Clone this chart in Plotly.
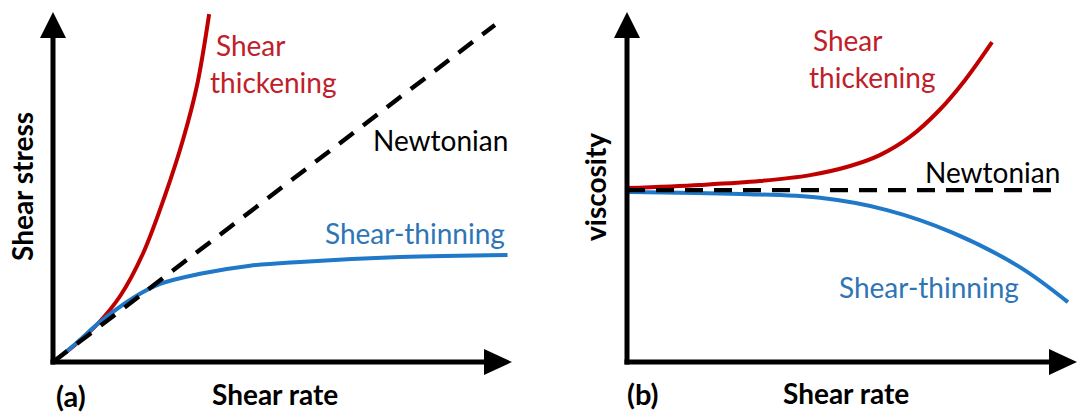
import plotly.graph_objects as go

W, H = 1077, 416

# ---------------- data (schematic values) ----------------
# Panel (a): shear stress vs shear rate
a_thick_x = [0, 0.5, 1.0, 1.5, 2.0, 2.5, 2.9, 3.2, 3.47]
a_thick_y = [0, 0.5, 1.1, 1.9, 3.1, 4.8, 6.4, 7.9, 9.94]
a_newt_x = [0, 9.82]
a_newt_y = [0, 9.63]
a_thin_x = [0, 0.49, 1.04, 1.78, 2.38, 3.27, 4.38, 5.49, 7.71, 10.1]
a_thin_y = [0, 0.51, 1.14, 1.83, 2.23, 2.52, 2.75, 2.86, 3.0, 3.06]

# Panel (b): viscosity vs shear rate
b_newt_x = [0, 9.64]
b_newt_y = [4.91, 4.91]
b_thick_x = [0, 1.63, 2.96, 4.08, 4.97, 5.63, 6.3, 6.96, 7.53, 8.13]
b_thick_y = [4.97, 5.06, 5.17, 5.34, 5.6, 5.91, 6.43, 7.2, 8.06, 9.14]
b_thin_x = [0, 2.52, 4.3, 5.79, 7.26, 8.75, 9.82]
b_thin_y = [4.86, 4.8, 4.69, 4.34, 3.69, 2.71, 1.71]

RED = "#C00000"
BLUE = "#1F78C8"
RED_TXT = "#C0202A"
BLUE_TXT = "#2E75B6"
FONT = "Lato"


def px(x):
    return x / W


def py(y):
    return 1 - y / H


fig = go.Figure()


def add(x, y, color, xa, ya, dash=None):
    fig.add_trace(go.Scatter(
        x=x, y=y, mode="lines", xaxis=xa, yaxis=ya, cliponaxis=False,
        line=dict(color=color, width=4 if dash is None else 4.4,
                  shape="linear" if dash else "spline", smoothing=1.0,
                  dash=dash if dash else "solid"),
        hoverinfo="skip", showlegend=False))


add(a_thick_x, a_thick_y, RED, "x", "y")
add(a_thin_x, a_thin_y, BLUE, "x", "y")
add(a_newt_x, a_newt_y, "black", "x", "y", dash="18px,12px")
add(b_thick_x, b_thick_y, RED, "x2", "y2")
add(b_thin_x, b_thin_y, BLUE, "x2", "y2")
add(b_newt_x, b_newt_y, "black", "x2", "y2", dash="18px,11px")

ydom = [py(362), py(12)]
hidden = dict(showgrid=False, zeroline=False, showticklabels=False,
              ticks="", showline=False, fixedrange=True)
fig.update_layout(
    xaxis=dict(domain=[px(53), px(512)], range=[0, 10.2], **hidden),
    yaxis=dict(domain=ydom, range=[0, 10], **hidden),
    xaxis2=dict(domain=[px(627), px(1076)], range=[0, 10], anchor="y2", **hidden),
    yaxis2=dict(domain=ydom, range=[0, 10], anchor="x2", **hidden),
)

# axes with arrowheads (paper coordinates)
shapes = []


def axis_pair(ox, oy, xtip, ytip):
    aw = 5
    shapes.append(dict(type="line", xref="paper", yref="paper",
                       x0=px(ox), y0=py(oy + 2.5), x1=px(ox), y1=py(ytip + 22),
                       line=dict(color="black", width=aw)))
    shapes.append(dict(type="line", xref="paper", yref="paper",
                       x0=px(ox - 2.5), y0=py(oy), x1=px(xtip - 24), y1=py(oy),
                       line=dict(color="black", width=aw)))
    shapes.append(dict(type="path", xref="paper", yref="paper",
                       path=f"M {px(ox-13)} {py(ytip+26)} L {px(ox)} {py(ytip)} L {px(ox+13)} {py(ytip+26)} Z",
                       fillcolor="black", line=dict(width=0)))
    shapes.append(dict(type="path", xref="paper", yref="paper",
                       path=f"M {px(xtip-28)} {py(oy-13)} L {px(xtip)} {py(oy)} L {px(xtip-28)} {py(oy+13)} Z",
                       fillcolor="black", line=dict(width=0)))


axis_pair(53, 362, 512, 12)
axis_pair(627, 362, 1077, 12)
fig.update_layout(shapes=shapes)

ann = []


def text(t, x, y, color="black", size=28, bold=False, angle=0):
    ann.append(dict(text=f"<b>{t}</b>" if bold else t, x=px(x), y=py(y),
                    xref="paper", yref="paper", showarrow=False,
                    xanchor="center", yanchor="middle", textangle=angle,
                    font=dict(family=FONT, size=size, color=color)))


# panel (a)
text("Shear", 250, 45, RED_TXT)
text("thickening", 273, 82, RED_TXT)
text("Newtonian", 440, 140)
text("Shear-thinning", 415, 233, BLUE_TXT)
text("Shear stress", 22, 187, bold=True, size=28, angle=-90)
text("(a)", 71, 395, bold=True, size=29)
text("Shear rate", 275, 394, bold=True, size=28)
# panel (b)
text("Shear", 847, 40, RED_TXT)
text("thickening", 872, 77, RED_TXT)
text("Newtonian", 992, 172)
text("Shear-thinning", 929, 287, BLUE_TXT)
text("viscosity", 595, 187, bold=True, size=28, angle=-90)
text("(b)", 643, 393, bold=True, size=29)
text("Shear rate", 846, 393, bold=True, size=28)

fig.update_layout(annotations=ann, width=W, height=H,
                  margin=dict(l=0, r=0, t=0, b=0),
                  paper_bgcolor="white", plot_bgcolor="white",
                  showlegend=False)

fig.write_html("out.html", config={"displayModeBar": False},
               post_script="document.body.style.margin='0';document.body.style.overflow='hidden';")
